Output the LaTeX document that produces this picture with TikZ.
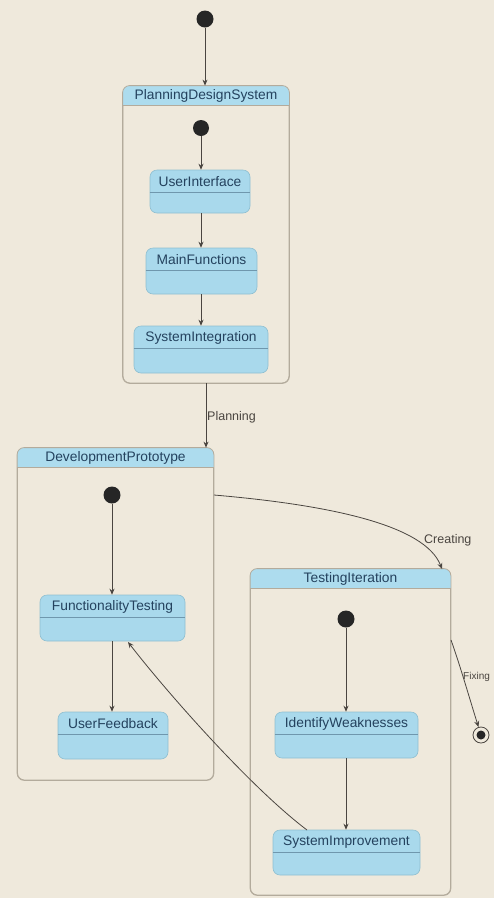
\documentclass[tikz,border=0pt]{standalone}
\usepackage{fontspec}
\setmainfont{Liberation Sans}
\usetikzlibrary{arrows.meta}
\definecolor{bgc}{HTML}{EFE9DC}
\definecolor{stfill}{HTML}{A9D9EC}
\definecolor{hdrc}{HTML}{ADDCEE}
\definecolor{cborder}{HTML}{B3AB9C}
\definecolor{sborder}{HTML}{8FBFD0}
\definecolor{sepc}{HTML}{6F97AD}
\definecolor{txtc}{HTML}{24425E}
\definecolor{linec}{HTML}{4A4540}
\tikzset{
  x=1pt, y=-1pt,
  statebox/.style={draw=sborder, fill=stfill, rounded corners=7pt, inner sep=0pt, line width=0.6pt},
  compbox/.style={draw=cborder, rounded corners=7pt, inner sep=0pt, line width=0.8pt},
  stitle/.style={text=txtc, font=\fontsize{13.8}{15}\selectfont, inner sep=0pt},
  ctitle/.style={text=txtc, font=\fontsize{13.8}{15}\selectfont, inner sep=0pt},
  lbl/.style={text=linec, font=\fontsize{12.5}{14}\selectfont, inner sep=0pt, anchor=west},
  sep/.style={draw=sepc, line width=0.5pt},
  startdot/.style={circle, fill=black!85, minimum size=17pt, inner sep=0pt},
  arr/.style={draw=linec, line width=0.8pt, -{Stealth[length=6pt,width=5pt]}},
}
\newcommand{\compheader}[1]{%
  \begin{scope}
    \clip[rounded corners=7pt] (#1.north west) rectangle (#1.south east);
    \fill[hdrc] (#1.north west) rectangle ([yshift=-20pt]#1.north east);
  \end{scope}
  \draw[cborder, line width=0.5pt] ([yshift=-20pt]#1.north west) -- ([yshift=-20pt]#1.north east);
  \draw[cborder, rounded corners=7pt, line width=0.8pt] (#1.north west) rectangle (#1.south east);
}
\newcommand{\stsep}[1]{%
  \draw[sep] ([yshift=-23pt]#1.north west) -- ([yshift=-23pt]#1.north east);
}
\begin{document}
\begin{tikzpicture}
\fill[bgc] (0,0) rectangle (494,898);
\useasboundingbox (0,0) rectangle (494,898);
\clip (0,0) rectangle (494,898);

% ---------- PlanningDesignSystem ----------
\node[compbox, minimum width=166pt, minimum height=297pt] (pds) at (206,234.5) {};
\compheader{pds}
\node[ctitle] (pdst) at ([yshift=-10.5pt]pds.north) {PlanningDesignSystem};

\node[startdot] (s0) at (205,19) {};
\node[startdot, minimum size=16pt] (s1) at (201,128) {};

\node[statebox, minimum width=100pt, minimum height=43pt] (ui) at (200,191.5) {};
\stsep{ui}
\node[stitle] (uit) at ([yshift=-11.5pt]ui.north) {UserInterface};

\node[statebox, minimum width=111pt, minimum height=46pt] (mf) at (201.5,271) {};
\stsep{mf}
\node[stitle] (mft) at ([yshift=-12pt]mf.north) {MainFunctions};

\node[statebox, minimum width=134pt, minimum height=47pt] (si) at (201,349.5) {};
\stsep{si}
\node[stitle] (sit) at ([yshift=-12pt]si.north) {SystemIntegration};

% ---------- DevelopmentPrototype ----------
\node[compbox, minimum width=196pt, minimum height=332pt] (dp) at (115.5,614) {};
\compheader{dp}
\node[ctitle] (dpt) at ([yshift=-10.5pt]dp.north) {DevelopmentPrototype};

\node[startdot] (s2) at (112,495) {};

\node[statebox, minimum width=145pt, minimum height=46pt] (ft) at (112.5,618) {};
\stsep{ft}
\node[stitle] (ftt) at ([yshift=-12pt]ft.north) {FunctionalityTesting};

\node[statebox, minimum width=110pt, minimum height=47pt] (uf) at (113,735.5) {};
\stsep{uf}
\node[stitle] (uft) at ([yshift=-12pt]uf.north) {UserFeedback};

% ---------- TestingIteration ----------
\node[compbox, minimum width=200pt, minimum height=326pt] (ti) at (350.5,732) {};
\compheader{ti}
\node[ctitle] (tit) at ([yshift=-10.5pt]ti.north) {TestingIteration};

\node[startdot] (s3) at (346,619) {};

\node[statebox, minimum width=143pt, minimum height=46pt] (iw) at (346.5,735) {};
\stsep{iw}
\node[stitle] (iwt) at ([yshift=-12pt]iw.north) {IdentifyWeaknesses};

\node[statebox, minimum width=147pt, minimum height=45pt] (sim) at (346.5,852.5) {};
\stsep{sim}
\node[stitle] (simt) at ([yshift=-12pt]sim.north) {SystemImprovement};

% final state
\node[circle, draw=linec, line width=0.8pt, fill=bgc, minimum size=16pt, inner sep=0pt] (fin) at (481,735) {};
\node[circle, fill=black!85, minimum size=9pt, inner sep=0pt] (finin) at (fin.center) {};

% ---------- connectors ----------
\draw[arr] (s0) -- (s0 |- pds.north);
\draw[arr] (s1) -- (s1 |- ui.north);
\draw[arr] (ui.south -| 201,0) -- (mf.north -| 201,0);
\draw[arr] (mf.south -| 201,0) -- (si.north -| 201,0);

\draw[arr] (pds.south -| 206,0) -- (dp.north -| 206,0);
\node[lbl] (lplan) at (207,417) {Planning};

\draw[arr] (s2) -- (s2 |- ft.north);
\draw[arr] (ft.south -| 112,0) -- (uf.north -| 112,0);

\coordinate (cstart) at (214,495);
\coordinate (cend) at (442,569);
\draw[arr] (cstart) .. controls (330,505) and (425,525) .. (cend);
\node[lbl] (lcreate) at (424,540) {Creating};

\draw[arr] (s3) -- (s3 |- iw.north);
\draw[arr] (iw.south -| 346,0) -- (sim.north -| 346,0);

\coordinate (fbstart) at (307,830);
\coordinate (fbend) at (128,642);
\draw[arr] (fbstart) .. controls (250,787) and (165,690) .. (fbend);

\coordinate (fxstart) at (451,640);
\draw[arr] (fxstart) .. controls (460,665) and (470,700) .. (fin);
\node[lbl, font=\fontsize{10}{12}\selectfont] (lfix) at (463,677) {Fixing};
\end{tikzpicture}
\end{document}
